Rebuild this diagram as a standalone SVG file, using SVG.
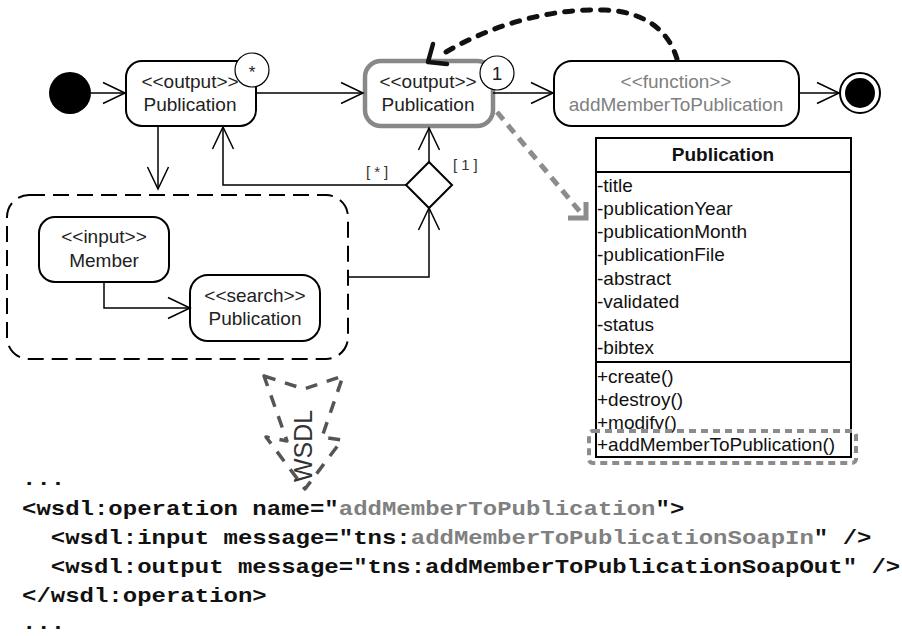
<svg xmlns="http://www.w3.org/2000/svg" width="902" height="636" viewBox="0 0 902 636">
<defs>
<style>
.node{fill:#fff;stroke:#000;stroke-width:2}
.t{font-family:"Liberation Sans",Arial,sans-serif;font-size:19px;fill:#222;text-anchor:middle}
.tg{fill:#808080}
.c{font-family:"Liberation Sans",Arial,sans-serif;font-size:19px;fill:#111}
.edge{fill:none;stroke:#000;stroke-width:1.5}
.code{font-family:"Liberation Mono","Courier New",monospace;font-size:24px;font-weight:bold;fill:#111;white-space:pre}
.guard{font-family:"Liberation Sans",Arial,sans-serif;font-size:15px;fill:#333;letter-spacing:4px}
</style>
<marker id="open" viewBox="-24 -12 26 24" refX="0" refY="0" markerWidth="26" markerHeight="24" markerUnits="userSpaceOnUse" orient="auto">
<path d="M-22,-10.5 L0,0 L-22,10.5" fill="none" stroke="#000" stroke-width="1.5"/>
</marker>
</defs>
<rect width="902" height="636" fill="#fff"/>

<g id="start"><circle cx="70" cy="93" r="21" fill="#000"/></g>

<g id="out1">
<rect class="node" x="126" y="61" width="130" height="65" rx="16"/>
<text class="t" x="190" y="88">&lt;&lt;output&gt;&gt;</text>
<text class="t" x="190" y="111">Publication</text>
<circle cx="252" cy="70" r="17" fill="#fff" stroke="#000" stroke-width="1.2"/>
<text class="t" x="252" y="78" style="font-size:17px">*</text>
</g>

<g id="out2">
<rect x="365" y="61" width="128" height="65" rx="16" fill="#fff" stroke="#888" stroke-width="4.5"/>
<text class="t" x="428" y="88">&lt;&lt;output&gt;&gt;</text>
<text class="t" x="428" y="111">Publication</text>
<circle cx="497" cy="73" r="17" fill="#fff" stroke="#000" stroke-width="1.2"/>
<text class="t" x="497" y="80">1</text>
</g>

<g id="func">
<rect class="node" x="554" y="61" width="245" height="65" rx="18"/>
<text class="t tg" x="676" y="88">&lt;&lt;function&gt;&gt;</text>
<text class="t tg" x="676" y="111">addMemberToPublication</text>
</g>

<g id="end">
<circle cx="860" cy="93" r="20" fill="#fff" stroke="#000" stroke-width="2"/>
<circle cx="860" cy="93" r="15" fill="#000"/>
</g>

<g id="decision">
<polygon points="429,162 452,185 429,208 406,185" fill="#fff" stroke="#000" stroke-width="2"/>
</g>

<g id="group">
<rect x="7" y="195" width="341" height="164" rx="22" fill="none" stroke="#000" stroke-width="2" stroke-dasharray="16 8"/>
</g>

<g id="member">
<rect class="node" x="39" y="217" width="130" height="65" rx="16"/>
<text class="t" x="104" y="243">&lt;&lt;input&gt;&gt;</text>
<text class="t" x="104" y="267">Member</text>
</g>

<g id="search">
<rect class="node" x="190" y="275" width="130" height="66" rx="18"/>
<text class="t" x="255" y="302">&lt;&lt;search&gt;&gt;</text>
<text class="t" x="255" y="325">Publication</text>
</g>

<g id="class">
<rect x="596" y="138" width="255" height="319" fill="#fff" stroke="#000" stroke-width="2"/>
<line x1="596" y1="172" x2="851" y2="172" stroke="#000" stroke-width="2"/>
<line x1="596" y1="362" x2="851" y2="362" stroke="#000" stroke-width="2"/>
<text class="t" x="723" y="161" style="font-weight:bold;fill:#111">Publication</text>
<text class="c" x="597" y="192">-title</text>
<text class="c" x="597" y="215">-publicationYear</text>
<text class="c" x="597" y="238">-publicationMonth</text>
<text class="c" x="597" y="261">-publicationFile</text>
<text class="c" x="597" y="285">-abstract</text>
<text class="c" x="597" y="308">-validated</text>
<text class="c" x="597" y="331">-status</text>
<text class="c" x="597" y="354">-bibtex</text>
<text class="c" x="597" y="383">+create()</text>
<text class="c" x="597" y="406">+destroy()</text>
<text class="c" x="597" y="429">+modify()</text>
<text class="c" x="597" y="451">+addMemberToPublication()</text>
<rect x="589" y="431" width="267" height="32" rx="4" fill="none" stroke="#8c8c8c" stroke-width="4" stroke-dasharray="7 5"/>
</g>

<g id="wsdl">
<polygon points="264,376 304,389 343,376 322,437 342,440 305,489 266,437 287,441" fill="none" stroke="#555" stroke-width="3.5" stroke-dasharray="12 10" stroke-linejoin="round"/>
<text transform="translate(312,446) rotate(-90)" style="font-family:'Liberation Sans',Arial,sans-serif;font-size:25px;fill:#333;text-anchor:middle">WSDL</text>
</g>

<g id="connectors">
<path class="edge" d="M91,93 H125" marker-end="url(#open)"/>
<path class="edge" d="M256,93 H363" marker-end="url(#open)"/>
<path class="edge" d="M493,93 H553" marker-end="url(#open)"/>
<path class="edge" d="M799,93 H839" marker-end="url(#open)"/>
<path class="edge" d="M158,127 V189" marker-end="url(#open)"/>
<path class="edge" d="M406,185 H223 V127" marker-end="url(#open)"/>
<path class="edge" d="M429,162 V128" marker-end="url(#open)"/>
<path class="edge" d="M349,277 H429 V208" marker-end="url(#open)"/>
<path class="edge" d="M104,282 V308 H190" marker-end="url(#open)"/>
<path d="M677,59 C670,35 650,12 605,10 C550,8 490,25 441,55" fill="none" stroke="#111" stroke-width="5" stroke-linecap="round" stroke-dasharray="8 10"/>
<polyline points="433,44 428,62 447,64" fill="none" stroke="#111" stroke-width="4.5" stroke-linecap="round" stroke-linejoin="round"/>
<path d="M497,112 L581,213" fill="none" stroke="#8c8c8c" stroke-width="5" stroke-dasharray="10 7"/>
<polyline points="568,218 586,218 586,202" fill="none" stroke="#8c8c8c" stroke-width="5"/>
<text class="guard" x="366" y="177">[*]</text>
<text class="guard" x="453" y="170">[1]</text>
</g>

<g id="code" transform="translate(0,515) scale(1,0.85)">
<text class="code" x="22" y="-35.3">...</text>
<text class="code" x="22" y="0">&lt;wsdl:operation name="<tspan fill="#808080">addMemberToPublication</tspan>"&gt;</text>
<text class="code" x="22" y="34.1">  &lt;wsdl:input message="tns:<tspan fill="#808080">addMemberToPublicationSoapIn</tspan>" /&gt;</text>
<text class="code" x="22" y="68.2">  &lt;wsdl:output message="tns:addMemberToPublicationSoapOut" /&gt;</text>
<text class="code" x="22" y="102.4">&lt;/wsdl:operation&gt;</text>
<text class="code" x="22" y="134">...</text>
</g>
</svg>
